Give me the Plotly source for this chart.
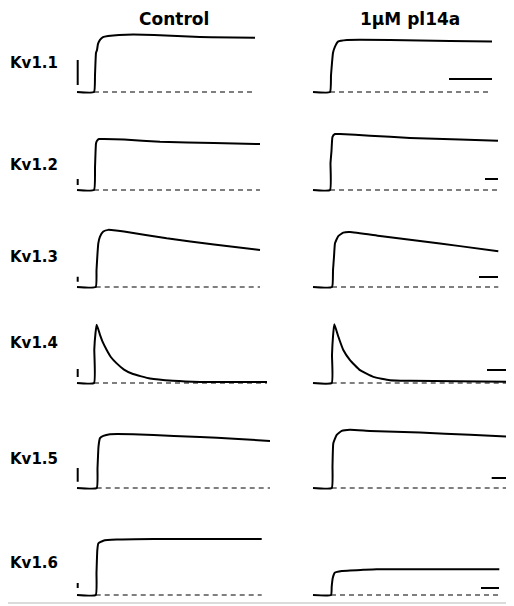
import plotly.graph_objects as go

# ---------------- data ----------------
rows = ["Kv1.1", "Kv1.2", "Kv1.3", "Kv1.4", "Kv1.5", "Kv1.6"]
columns = ["Control", "1\u03bcM pl14a"]

# time (ms, pulse onset ~0) and current normalised to control peak
ctrl_t = [
    [-17, 0, 1, 2, 3, 4, 6, 9, 14, 25, 60, 106, 161],
    [-17, 0, 1, 2, 3, 5, 10, 30, 66, 120, 166],
    [-17, 1.7, 2.5, 3.5, 4.3, 6, 9.3, 14.3, 30, 72.7, 120, 166],
    [-17, 0, 0.3, 1.5, 2.7, 6, 9, 12.7, 17, 22.7, 30, 39, 56, 79, 106, 173],
    [-17, 2.7, 3.5, 4.5, 6, 9.3, 16, 39, 80, 106, 140, 176],
    [-17, 1.7, 2.5, 3.3, 4.3, 9.3, 22.7, 60, 120, 167.7],
]
ctrl_i = [
    [0, 0, 0.3, 0.7, 0.75, 0.86, 0.93, 0.98, 1.0, 1.02, 1.02, 0.98, 0.97],
    [0, 0, 0.4, 0.83, 0.88, 0.91, 0.91, 0.9, 0.86, 0.84, 0.82],
    [0, 0, 0.3, 0.6, 0.78, 0.9, 0.99, 1.02, 0.99, 0.87, 0.76, 0.66],
    [0, 0, 0.6, 0.89, 1.04, 0.86, 0.72, 0.59, 0.46, 0.35, 0.24, 0.16, 0.08, 0.04, 0.02, 0.02],
    [0, 0, 0.35, 0.74, 0.89, 0.93, 0.96, 0.96, 0.93, 0.91, 0.88, 0.84],
    [0, 0, 0.4, 0.8, 0.92, 0.97, 0.99, 1.0, 1.0, 1.0],
]
pl_t = [
    [-17, 0, 1, 2, 3, 5, 8, 17, 60, 120, 162],
    [-17, 0, 0.5, 1.5, 2.5, 5, 10, 40, 80, 130, 168],
    [-17, 2, 3, 4, 5, 8.3, 13.3, 20, 50, 90, 130, 168.3],
    [-17, 1.7, 2.0, 3.0, 4.3, 8.3, 13.3, 20, 30, 43.3, 60, 80, 176.7],
    [-17, 1.7, 2.5, 3.3, 6.7, 11.7, 20, 40, 90, 140, 176],
    [-17, 1, 1.7, 2.7, 5, 11.7, 33.3, 46.7, 100, 169.3],
]
pl_i = [
    [0, 0, 0.3, 0.52, 0.70, 0.81, 0.90, 0.93, 0.93, 0.91, 0.90],
    [0, 0, 0.48, 0.7, 0.95, 1.0, 1.0, 0.97, 0.93, 0.9, 0.88],
    [0, 0, 0.3, 0.54, 0.78, 0.91, 0.97, 0.98, 0.91, 0.82, 0.73, 0.64],
    [0, 0, 0.5, 0.83, 1.05, 0.83, 0.59, 0.41, 0.23, 0.11, 0.05, 0.04, 0.02],
    [0, 0, 0.4, 0.80, 0.95, 1.02, 1.04, 1.02, 0.99, 0.95, 0.92],
    [0, 0, 0.15, 0.3, 0.40, 0.43, 0.45, 0.46, 0.46, 0.46],
]

# current scale bars (control column): time, bottom, top
ibar_t = [-16.3, -16.3, -16.3, -16.3, -16.3, -16.3]
ibar_lo = [0.125, 0.089, 0.095, 0.107, 0.113, 0.125]
ibar_hi = [0.571, 0.196, 0.184, 0.25, 0.357, 0.214]
# time scale bars (pl14a column): level, start, end
tbar_y = [0.232, 0.196, 0.179, 0.232, 0.179, 0.125]
tbar_t0 = [119, 155, 149, 157, 161.7, 151]
tbar_t1 = [162, 168, 168, 177, 176, 169]

# ---------------- layout constants ----------------
# the page body has an 8px margin: the figure is drawn 8px smaller and
# every page position below is shifted by that offset
OFF = 8
W, H = 514 - OFF, 606 - OFF
row_base_px = [92, 190, 287, 383, 488, 595]
px_per_unit = 56.0
y_lo, y_hi = -0.15, 1.25
x_lo, x_hi = -20, 180
col_left_px = [74, 310]
label_y_px = [63, 165, 257, 343, 459, 563]
title_x_px = [174, 410]


def fx(px):
    return (px - OFF) / W


def fy(px):
    return 1 - (px - OFF) / H


fig = go.Figure()
layout = dict(width=W, height=H, margin=dict(l=0, r=0, t=0, b=0, pad=0),
              paper_bgcolor="white", plot_bgcolor="white", showlegend=False)

k = 0
for r in range(6):
    base = row_base_px[r]
    bottom_px = base - y_lo * px_per_unit
    top_px = base - y_hi * px_per_unit
    ydom = [max(0, fy(bottom_px)), min(1, fy(top_px))]
    for c in range(2):
        k += 1
        xa = "x" if k == 1 else f"x{k}"
        ya = "y" if k == 1 else f"y{k}"
        xkey = "xaxis" if k == 1 else f"xaxis{k}"
        ykey = "yaxis" if k == 1 else f"yaxis{k}"
        left = col_left_px[c]
        layout[xkey] = dict(domain=[fx(left), fx(left + (x_hi - x_lo))],
                            range=[x_lo, x_hi], visible=False, anchor=ya,
                            fixedrange=True)
        layout[ykey] = dict(domain=ydom, range=[y_lo, y_hi], visible=False,
                            anchor=xa, fixedrange=True)
        ts = ctrl_t[r] if c == 0 else pl_t[r]
        cs = ctrl_i[r] if c == 0 else pl_i[r]
        fig.add_trace(go.Scatter(x=[ts[1], ts[-1]], y=[0, 0], mode="lines",
                                 line=dict(color="black", width=1.2, dash="5px,4px"),
                                 xaxis=xa, yaxis=ya, hoverinfo="skip"))
        fig.add_trace(go.Scatter(x=ts, y=cs, mode="lines",
                                 line=dict(color="black", width=2, shape="spline",
                                           smoothing=0.4),
                                 xaxis=xa, yaxis=ya, name=f"{rows[r]} {columns[c]}"))
        if c == 0:
            fig.add_trace(go.Scatter(x=[ibar_t[r], ibar_t[r]], y=[ibar_lo[r], ibar_hi[r]],
                                     mode="lines", line=dict(color="black", width=2),
                                     xaxis=xa, yaxis=ya, hoverinfo="skip"))
        else:
            fig.add_trace(go.Scatter(x=[tbar_t0[r], tbar_t1[r]], y=[tbar_y[r], tbar_y[r]],
                                     mode="lines", line=dict(color="black", width=2),
                                     xaxis=xa, yaxis=ya, hoverinfo="skip"))

annotations = []
font_face = "DejaVu Sans"
for r, name in enumerate(rows):
    annotations.append(dict(text=f"<b>{name}</b>", x=fx(8), y=fy(label_y_px[r]),
                            xref="paper", yref="paper", xanchor="left", yanchor="middle",
                            showarrow=False, font=dict(family=font_face, size=15, color="black")))
for c, name in enumerate(columns):
    annotations.append(dict(text=f"<b>{name}</b>", x=fx(title_x_px[c]), y=1,
                            xref="paper", yref="paper", xanchor="center", yanchor="top",
                            borderpad=0, showarrow=False,
                            font=dict(family=font_face, size=17, color="black")))
layout["annotations"] = annotations
layout["shapes"] = [dict(type="line", xref="paper", yref="paper", x0=0, x1=1,
                         y0=fy(603), y1=fy(603),
                         line=dict(color="#cfcfcf", width=1.5))]

fig.update_layout(**layout)
fig.write_html("out.html")
